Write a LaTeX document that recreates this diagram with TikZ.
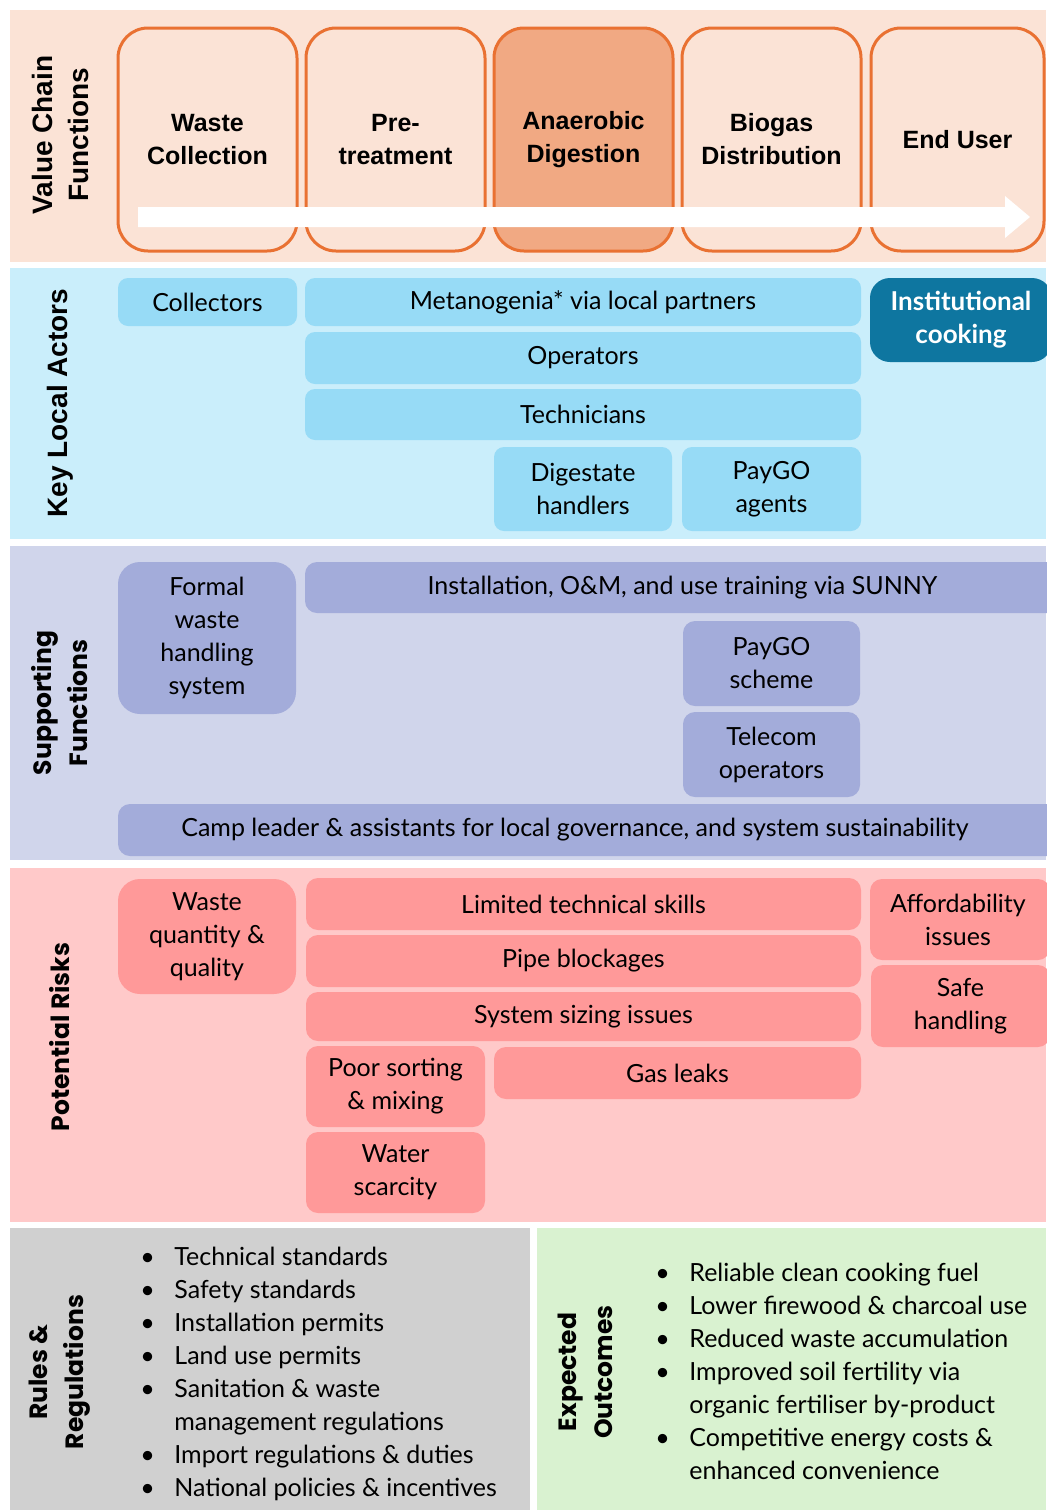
\documentclass[tikz,border=0pt]{standalone}
\usepackage{fontspec}
\setmainfont{Lato}
\newfontfamily\headfont{Liberation Sans}
\newfontfamily\widefont{Poppins}
\usetikzlibrary{positioning, arrows.meta, fit}

\definecolor{vcband}{HTML}{FBE3D6}
\definecolor{vcline}{HTML}{E97132}
\definecolor{adfill}{HTML}{F1A983}
\definecolor{kaband}{HTML}{CAEEFB}
\definecolor{kabox}{HTML}{97DBF6}
\definecolor{kadark}{HTML}{0E76A0}
\definecolor{sfband}{HTML}{D0D5EB}
\definecolor{sfbox}{HTML}{A3ACDA}
\definecolor{prband}{HTML}{FFC9C9}
\definecolor{prbox}{HTML}{FF9999}
\definecolor{rrband}{HTML}{D0D0D0}
\definecolor{eoband}{HTML}{D9F2D0}

\begin{document}
\begin{tikzpicture}[x=0.5pt, y=-0.5pt]
\tikzset{
  sidelabel/.style={rotate=90, align=center, font=\headfont\bfseries\fontsize{14}{18}\selectfont},
  widelabel/.style={rotate=90, align=center, font=\widefont\bfseries\fontsize{12.5}{18}\selectfont},
  vcbox/.style={draw=vcline, line width=1.5pt, rounded corners=15pt, inner sep=0pt},
  vctext/.style={align=center, inner sep=0pt, font=\headfont\bfseries\fontsize{12.5}{16.5}\selectfont},
  boxtext/.style={align=center, inner sep=0pt, font=\fontsize{12.5}{16.5}\selectfont},
  actor/.style={fill=kabox, rounded corners=5pt, inner sep=0pt},
  support/.style={fill=sfbox, rounded corners=6pt, inner sep=0pt},
  risk/.style={fill=prbox, rounded corners=6pt, inner sep=0pt},
  itemlist/.style={inner sep=0pt, anchor=north west, align=left, font=\fontsize{12.5}{16.5}\selectfont}
}
\useasboundingbox (0,0) rectangle (1046,1510);

% 背景
\fill[vcband] (10,10) rectangle (1046,262);
\fill[kaband] (10,268) rectangle (1046,539);
\fill[sfband] (10,546) rectangle (1046,860);
\fill[prband] (10,868) rectangle (1046,1222);
\fill[rrband] (10,1228) rectangle (530,1510);
\fill[eoband] (537,1228) rectangle (1046,1510);

% 价值链
\foreach \nm/\xa/\col/\txt in {wc/118/vcband/{Waste\\Collection}, pt/306/vcband/{Pre-\\treatment},
    ad/494/adfill/{Anaerobic\\Digestion}, bd/682/vcband/{Biogas\\Distribution}}
  \node[vcbox, fill=\col, fit={(\xa,28) (\xa+179,251)}, label={[vctext]center:{\txt}}] (\nm) {};
\node[vcbox, fill=vcband, fit={(871,28) (1044,251)}, label={[vctext]center:{End User}}] (eu) {};
\coordinate (flowstart) at (138,217);
\coordinate (flowend) at (1030,217);
\fill[white] (flowstart) ++(0,-10) -- (1005,207) -- (1005,196) -- (flowend) -- (1005,238) -- (1005,227) -- (138,227) -- cycle;

\node[sidelabel] (vclabel) at (60,135) {Value Chain\\Functions};

% 主要本地参与者
\node[sidelabel] (kalabel) at (60,403) {Key Local Actors};
\node[actor, fit={(118,278) (297,326)}, label={[boxtext]center:{Collectors}}] (coll) {};
\node[actor, fit={(305,278) (861,326)}, label={[boxtext]center:{Metanogenia* via local partners}}] (meta) {};
\node[actor, fit={(305,332) (861,384)}, label={[boxtext]center:{Operators}}] (oper) {};
\node[actor, fit={(305,389) (861,440)}, label={[boxtext]center:{Technicians}}] (tech) {};
\node[actor, fit={(494,447) (672,531)}, label={[boxtext]center:{Digestate\\handlers}}] (dig) {};
\node[actor, fit={(682,447) (861,531)}, label={[boxtext]center:{PayGO\\agents}}] (pga) {};
\node[actor, fill=kadark, rounded corners=10pt, fit={(870,278) (1052,362)},
  label={[boxtext, text=white, font=\bfseries\fontsize{13}{16.5}\selectfont]center:{Institutional\\cooking}}] (inst) {};

% 支持功能
\node[widelabel] (sflabel) at (60,703) {Supporting\\Functions};
\node[support, rounded corners=11pt, fit={(118,562) (296,714)}, label={[boxtext]center:{Formal\\waste\\handling\\system}}] (formal) {};
\node[support, fit={(305,562) (1060,613)}, label={[boxtext]center:{Installation, O\&M, and use training via SUNNY}}] (train) {};
\node[support, fit={(683,621) (860,706)}, label={[boxtext]center:{PayGO\\scheme}}] (pgs) {};
\node[support, fit={(683,712) (860,797)}, label={[boxtext]center:{Telecom\\operators}}] (tele) {};
\node[support, fit={(118,804) (1060,856)},
  label={[boxtext, xshift=-7pt]center:{Camp leader \& assistants for local governance, and system sustainability}}] (camp) {};

% 潜在风险
\node[widelabel] (prlabel) at (60,1037) {Potential Risks};
\node[risk, rounded corners=11pt, fit={(118,879) (296,994)}, label={[boxtext]center:{Waste\\quantity \&\\quality}}] (wq) {};
\node[risk, fit={(306,878) (861,930)}, label={[boxtext]center:{Limited technical skills}}] (skill) {};
\node[risk, fit={(306,935) (861,987)}, label={[boxtext]center:{Pipe blockages}}] (pipe) {};
\node[risk, fit={(306,992) (861,1041)}, label={[boxtext]center:{System sizing issues}}] (size) {};
\node[risk, fit={(306,1046) (485,1127)}, label={[boxtext]center:{Poor sorting\\\& mixing}}] (sort) {};
\node[risk, fit={(494,1047) (861,1099)}, label={[boxtext]center:{Gas leaks}}] (gas) {};
\node[risk, fit={(306,1132) (485,1213)}, label={[boxtext]center:{Water\\scarcity}}] (water) {};
\node[risk, fit={(870,879) (1050,960)}, label={[boxtext, xshift=-1pt]center:{Affordability\\issues}}] (afford) {};
\node[risk, fit={(871,965) (1050,1047)}, label={[boxtext]center:{Safe\\handling}}] (safe) {};

% 规则与结果
\node[widelabel] (rrlabel) at (60,1372) {Rules \&\\Regulations};
\node[itemlist] (rrlist) at (140,1242) {%
  \begin{tabular}{@{}p{17pt}@{}l@{}}
  \textbullet & Technical standards\\
  \textbullet & Safety standards\\
  \textbullet & Installation permits\\
  \textbullet & Land use permits\\
  \textbullet & Sanitation \& waste\\
              & management regulations\\
  \textbullet & Import regulations \& duties\\
  \textbullet & National policies \& incentives
  \end{tabular}};
\node[widelabel] (eolabel) at (585,1372) {Expected\\Outcomes};
\node[itemlist] (eolist) at (655,1258) {%
  \begin{tabular}{@{}p{17pt}@{}l@{}}
  \textbullet & Reliable clean cooking fuel\\
  \textbullet & Lower firewood \& charcoal use\\
  \textbullet & Reduced waste accumulation\\
  \textbullet & Improved soil fertility via\\
              & organic fertiliser by-product\\
  \textbullet & Competitive energy costs \&\\
              & enhanced convenience
  \end{tabular}};
\end{tikzpicture}
\end{document}
